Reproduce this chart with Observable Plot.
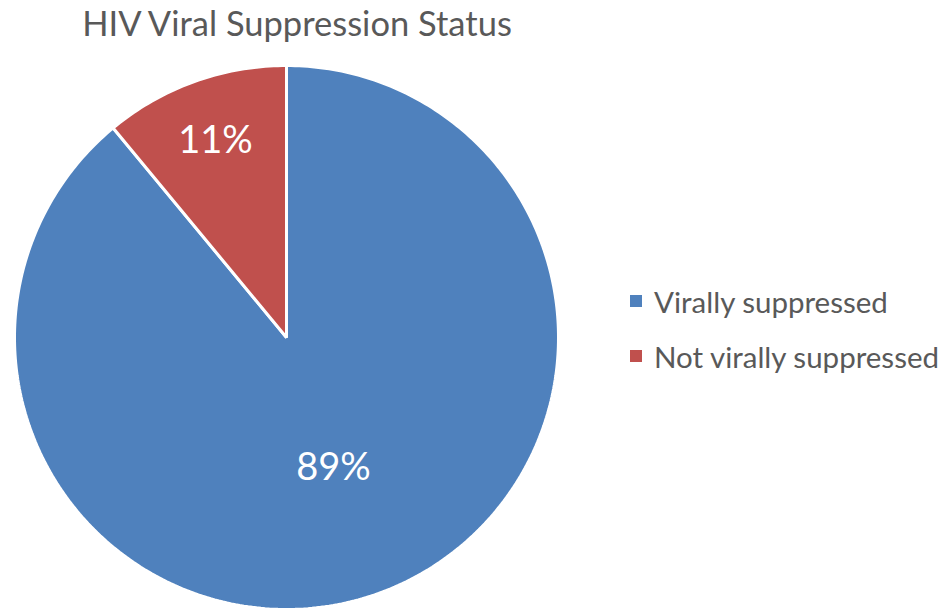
<!DOCTYPE html>
<html>
<head>
<meta charset="utf-8">
<script src="https://cdn.jsdelivr.net/npm/d3@7"></script>
<script src="https://cdn.jsdelivr.net/npm/@observablehq/plot@0.6"></script>
<style>
  html, body { margin: 0; padding: 0; background: #fff; }
  #wrap { position: relative; width: 943px; height: 610px; overflow: hidden; font-family: Lato, "Open Sans", sans-serif; color: #595959; }
  #title { position: absolute; left: 0; top: 2px; width: 594px; text-align: center; font-size: 34.5px; white-space: nowrap; }
  #chart { position: absolute; left: 0; top: 0; }
  #legend { position: absolute; left: 630px; top: 282px; font-size: 29.5px; }
  .item { display: flex; align-items: center; height: 38px; margin-bottom: 17px; white-space: nowrap; }
  .sw { width: 12px; height: 12px; margin-right: 12px; }
</style>
</head>
<body>
<div id="wrap">
  <div id="chart"></div>
  <div id="title"></div>
  <div id="legend"></div>
</div>
<script>
const titleText = "HIV Viral Suppression Status";
const categories = ["Virally suppressed", "Not virally suppressed"];
const values = [89, 11];
const colors = ["#4F81BD", "#C0504D"];

document.getElementById("title").textContent = titleText;

// Slices clockwise from 12 o'clock, in data order
const total = d3.sum(values);
const pie = d3.pie().sort(null).startAngle(0).endAngle(2 * Math.PI).value(d => d.value);
const arcs = pie(categories.map((c, i) => ({category: c, value: values[i]})));

const points = [];
for (const a of arcs) {
  points.push({slice: a.data.category, x: 0, y: 0});
  const n = Math.max(4, Math.ceil((a.endAngle - a.startAngle) / (2 * Math.PI) * 400));
  for (let k = 0; k <= n; k++) {
    const t = a.startAngle + (a.endAngle - a.startAngle) * k / n;
    points.push({slice: a.data.category, x: Math.sin(t), y: Math.cos(t)});
  }
}

const labels = arcs.map(a => {
  const mid = (a.startAngle + a.endAngle) / 2;
  const share = a.data.value / total;
  const r = share > 0.5 ? 0.51 : 0.77;
  return {text: Math.round(share * 100) + "%", x: r * Math.sin(mid), y: r * Math.cos(mid)};
});

const cx = 286, cy = 337, R = 272;
const chart = Plot.plot({
  width: 943,
  height: 610,
  margin: 0,
  x: {domain: [-1, 1], range: [cx - R, cx + R], axis: null},
  y: {domain: [-1, 1], range: [cy + R, cy - R], axis: null},
  color: {domain: categories, range: colors},
  marks: [
    Plot.line(points, {x: "x", y: "y", z: "slice", fill: "slice", stroke: "white", strokeWidth: 3, strokeLinejoin: "miter", curve: "linear-closed"}),
    Plot.text(labels, {x: "x", y: "y", text: "text", fill: "white", fontSize: 38, fontFamily: "Lato, sans-serif", textAnchor: "middle"})
  ]
});
document.getElementById("chart").appendChild(chart);

const legend = document.getElementById("legend");
categories.forEach((c, i) => {
  const item = document.createElement("div");
  item.className = "item";
  const sw = document.createElement("div");
  sw.className = "sw";
  sw.style.background = colors[i];
  const lab = document.createElement("span");
  lab.textContent = c;
  item.appendChild(sw);
  item.appendChild(lab);
  legend.appendChild(item);
});
</script>
</body>
</html>
